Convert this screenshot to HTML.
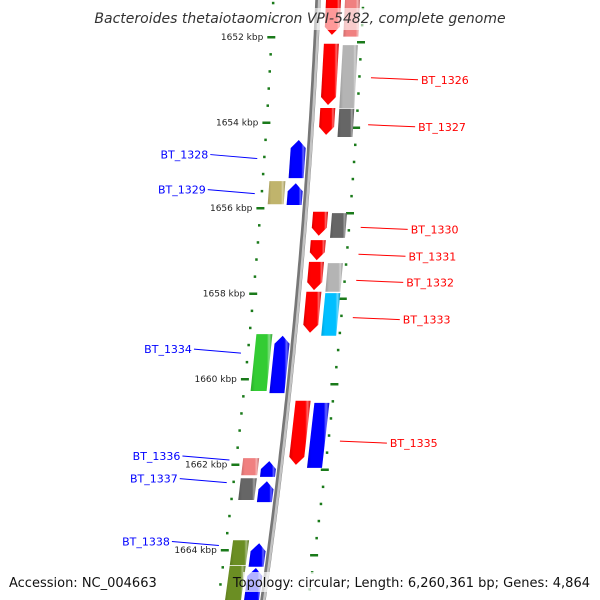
<!DOCTYPE html>
<html><head><meta charset="utf-8"><style>
html,body{margin:0;padding:0;background:#fff}
svg{display:block}
text{font-family:"DejaVu Sans","Liberation Sans",sans-serif}
</style></head><body>
<svg id="c" width="600" height="600" viewBox="0 0 600 600">
<defs id="defs"></defs>
<g id="backbone-g"></g>
<g id="ticks-g"></g>
<g id="genes-g"></g>
<g id="labels-g"></g>
<rect x="95" y="8" width="410" height="22" fill="#fff" fill-opacity="0.6"/>
<text x="300" y="23" text-anchor="middle" font-size="14" font-style="italic" fill="#333">Bacteroides thetaiotaomicron VPI-5482, complete genome</text>
<rect x="4" y="572" width="150" height="20" fill="#fff" fill-opacity="0.7"/>
<text x="9" y="587" font-size="13" fill="#111">Accession: NC_004663</text>
<rect x="243" y="572" width="352" height="20" fill="#fff" fill-opacity="0.7"/>
<text x="590" y="587" text-anchor="end" font-size="13" fill="#111">Topology: circular; Length: 6,260,361 bp; Genes: 4,864</text>
</svg>
<script>
// kbp start, kbp end, column, color
const geneStart = [1651.13,1652.16,1653.66,1656.09,1656.75,1657.26,1657.96,1660.51, 1651.13,1652.19,1653.68,1656.12,1657.29,1657.99,1660.56, 1654.41,1655.42,1658.99,1661.92,1662.39,1663.84,1664.42, 1655.37,1658.95,1661.85,1662.32,1663.77,1664.37];
const geneEnd   = [1651.95,1653.59,1654.29,1656.65,1657.22,1657.92,1658.92,1662.01, 1651.99,1653.66,1654.34,1656.70,1657.96,1658.99,1662.08, 1655.30,1655.93,1660.33,1662.29,1662.88,1664.39,1665.30, 1655.91,1660.28,1662.25,1662.83,1664.35,1665.30];
const geneColumn = ["ri","ri","ri","ri","ri","ri","ri","ri", "ro","ro","ro","ro","ro","ro","ro", "li","li","li","li","li","li","li", "lo","lo","lo","lo","lo","lo"];
const geneColor = ["#ff0000","#ff0000","#ff0000","#ff0000","#ff0000","#ff0000","#ff0000","#ff0000", "#f08080","#b4b4b4","#666666","#666666","#b4b4b4","#00bfff","#0000ff", "#0000ff","#0000ff","#0000ff","#0000ff","#0000ff","#0000ff","#0000ff", "#c0b46c","#33cc33","#f08080","#666666","#6b8e23","#6b8e23"];
const labelNames = ["BT_1326","BT_1327","BT_1330","BT_1331","BT_1332","BT_1333","BT_1335","BT_1328","BT_1329","BT_1334","BT_1336","BT_1337","BT_1338"];
const labelKbp = [1653.00,1654.10,1656.50,1657.13,1657.74,1658.61,1661.50,1654.75,1655.57,1659.30,1661.80,1662.33,1663.80];
const labelSide = ["r","r","r","r","r","r","r","l","l","l","l","l","l"];
const tickKbp = [1650,1652,1654,1656,1658,1660,1662,1664,1666];

const NS="http://www.w3.org/2000/svg";
const svg=document.getElementById('c');
function yOf(k){return 37+(k-1652)*42.75;}
function bx(y){return 318-0.0442*y-0.000079*y*y;}
function mk(tag,attrs,parent){const e=document.createElementNS(NS,tag);for(const a in attrs)e.setAttribute(a,attrs[a]);parent.appendChild(e);return e;}
function shade(hex,f){const n=parseInt(hex.slice(1),16);let r=n>>16,g=(n>>8)&255,b=n&255;
 const m=v=>Math.round(f>0?v+(255-v)*f:v*(1+f));return `rgb(${m(r)},${m(g)},${m(b)})`;}

// backbone
const bbG=document.getElementById('backbone-g');
let pts=[];for(let y=-5;y<=605;y+=5)pts.push(bx(y).toFixed(1)+','+y);
const bb1=mk('polyline',{points:pts.join(' '),fill:'none',stroke:'#777','stroke-width':5.5},bbG);


const bb2=mk('polyline',{points:pts.join(' '),fill:'none',stroke:'#c4c4c4','stroke-width':2.5,transform:'translate(1.2,0)'},bbG);



// ticks
const tG=document.getElementById('ticks-g');
for(let i=0;i<tickKbp.length;i++){
 for(let j=0;j<5;j++){
  const k=tickKbp[i]+j*0.4;
  for(const side of ['l','r']){
   const y=yOf(k)+(side==='r'?5:0);
   if(y<-5||y>605)continue;
   const x=bx(y)+(side==='l'?-45:45);
   const major=j===0;
   const t=mk('rect',{x:(x-(major?4:1)).toFixed(1),y:(y-1).toFixed(1),width:major?8:2.5,height:2.5,fill:'#1a7a1a'},tG);
   
   
   if(major&&side==='l'){
    const lb=mk('text',{x:(x-8).toFixed(1),y:(y+3).toFixed(1),'text-anchor':'end','font-size':9,fill:'#222'},tG);
    lb.textContent=tickKbp[i]+' kbp';
    
    
   }
  }
 }
}

// genes
const defs=document.getElementById('defs');
const gG=document.getElementById('genes-g');
const offs={ri:[8,23],ro:[27,42],li:[-19,-4],lo:[-38,-22]};
for(let i=0;i<geneStart.length;i++){
 const id='gr'+i;
 const gr=mk('linearGradient',{id:id,x1:0,y1:0,x2:1,y2:0},defs);
 mk('stop',{offset:0,'stop-color':shade(geneColor[i],-0.15)},gr);
 mk('stop',{offset:0.2,'stop-color':geneColor[i]},gr);
 mk('stop',{offset:0.75,'stop-color':geneColor[i]},gr);
 mk('stop',{offset:0.85,'stop-color':shade(geneColor[i],0.4)},gr);
 mk('stop',{offset:1,'stop-color':shade(geneColor[i],-0.2)},gr);
 const c=geneColumn[i],o=offs[c];
 const y1=yOf(geneStart[i]),y2=yOf(geneEnd[i]);
 const P=(dx,y)=>(bx(y)+dx).toFixed(1)+','+y.toFixed(1);
 const a=Math.min(8,(y2-y1)/2),m=(o[0]+o[1])/2;
 let p;
 if(c==='ri') p=[P(o[0],y1),P(o[1],y1),P(o[1],y2-a),P(m,y2),P(o[0],y2-a)];
 else if(c==='li') p=[P(o[0],y1+a),P(m,y1),P(o[1],y1+a),P(o[1],y2),P(o[0],y2)];
 else p=[P(o[0],y1),P(o[1],y1),P(o[1],y2),P(o[0],y2)];
 const g=mk('polygon',{points:p.join(' '),fill:'url(#'+id+')'},gG);
 
 
}

// labels
const lG=document.getElementById('labels-g');
for(let i=0;i<labelNames.length;i++){
 const y=yOf(labelKbp[i]);
 const b=bx(y);
 if(labelSide[i]==='r'){
  const x0=b+57,x1=x0+47;
  const l=mk('line',{x1:x0,y1:y-2,x2:x1,y2:y,stroke:'#ff0000','stroke-width':1},lG);
  
  
  const t=mk('text',{x:x1+3,y:y+4,'font-size':11,fill:'#ff0000'},lG);
  t.textContent=labelNames[i];
  
  
 } else {
  const x0=b-52,x1=x0-47;
  const l=mk('line',{x1:x0,y1:y+4,x2:x1,y2:y,stroke:'#0000ff','stroke-width':1},lG);
  
  
  const t=mk('text',{x:x1-2,y:y+4,'font-size':11,fill:'#0000ff','text-anchor':'end'},lG);
  t.textContent=labelNames[i];
  
  
 }
}
</script>
</body></html>
